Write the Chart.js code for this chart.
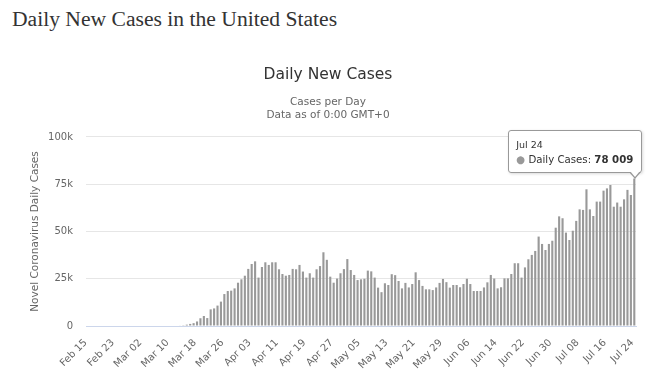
<!DOCTYPE html>
<html>
<head>
<meta charset="utf-8">
<script src="https://cdn.jsdelivr.net/npm/chart.js@4.4.0/dist/chart.umd.min.js"></script>
<style>
    body { margin: 0; background: #fff; }
    #wrap { position: relative; width: 653px; height: 376px; overflow: hidden; }
    #page-title {
        position: absolute; left: 12px; top: 8px;
        font-family: "Liberation Serif", "Times New Roman", serif;
        font-size: 21.6px; line-height: 22px; color: #333;
    }
    #chart { position: absolute; left: 0; top: 0; }
    #tip {
        position: absolute; display: none; white-space: nowrap;
        background: rgba(255, 255, 255, 0.96);
        border: 1px solid #999; border-radius: 3px;
        padding: 8px 8px 7px 7px;
        font-family: "DejaVu Sans", sans-serif; color: #333;
        box-shadow: 1px 1px 3px rgba(0, 0, 0, 0.15);
    }
    #tip .t { font-size: 9.5px; margin-bottom: 4px; }
    #tip .b { font-size: 10.2px; }
    #tip .dot { color: #999; }
    #tip:before, #tip:after {
        content: ''; position: absolute; width: 0; height: 0;
        border-left: 6px solid transparent; border-right: 6px solid transparent;
    }
    #tip:before { right: 0px; bottom: -7px; border-top: 7px solid #999; }
    #tip:after { right: 1px; bottom: -5px; border-left-width: 5px; border-right-width: 5px; border-top: 6px solid #fff; }
</style>
</head>
<body>
<div id="wrap">
    <div id="page-title">Daily New Cases in the United States</div>
    <canvas id="chart" width="653" height="376"></canvas>
    <div id="tip"></div>
</div>
<script>
// month name, first day, last day shown
const monthSpans = [['Feb', 15, 29], ['Mar', 1, 31], ['Apr', 1, 30], ['May', 1, 31], ['Jun', 1, 30], ['Jul', 1, 24]]

let days = []
monthSpans.forEach(function(m){
    for (let d = m[1]; d <= m[2]; d++) {
        days.push(m[0] + ' ' + (d < 10 ? '0' + d : d))
    }
})

// Feb 15 .. Jul 24 (nothing visible before mid March)
const dailyCases = [
    0, 0, 0, 0, 0, 0, 0, 0, 0, 0, 0, 0, 0, 0, 0,
    0, 0, 0, 0, 0, 0, 0, 0, 0, 0, 0, 0, 300, 400,
    700, 1100, 1500, 2400, 4100, 5300, 4200, 8800, 9300, 10800,
    12900, 16900, 18500, 18700, 19900, 22900, 24700, 26600, 30200, 32800,
    34200, 25600, 31200, 33700, 32300, 33700, 33700, 30000, 27500, 26600,
    27000, 30200, 30000, 32300, 28800, 25600, 27900, 25600, 30000, 31700,
    39000, 35000, 26100, 22900, 25100, 27900, 30100, 35400, 29600, 27000,
    24300, 24700, 25000, 29300, 28900, 25600, 20300, 17900, 22600, 21700,
    27400, 26900, 23800, 19900, 22800, 20400, 22200, 28400, 24300, 21200,
    19400, 19400, 19000, 20400, 22800, 24900, 23200, 20300, 21700, 21700,
    20500, 22200, 25000, 22200, 18500, 18500, 18500, 20400, 23100, 27000,
    25100, 19900, 20500, 25200, 25200, 27500, 33200, 33200, 25600, 31000,
    35300, 37600, 39700, 47300, 43400, 40200, 43400, 45100, 52000, 58000,
    57000, 49400, 45500, 50400, 55600, 61700, 61400, 72300, 61700, 58200,
    65800, 65800, 71600, 72800, 74600, 63100, 65300, 63100, 67000, 72000,
    69300, 78009
]

const yTicks = [0, 25000, 50000, 75000, 100000]
const labelEvery = 8
const tipIndex = days.length - 1

const FONT = '"DejaVu Sans", sans-serif'

function spaced(n){
    return String(n).replace(/\B(?=(\d{3})+(?!\d))/g, ' ')
}

function showTip(context){
    let tooltip = context.tooltip
    let tip = document.getElementById('tip')

    if (tooltip.opacity === 0 || !tooltip.dataPoints || !tooltip.dataPoints.length) {
        tip.style.display = 'none'
        return
    }

    let point = tooltip.dataPoints[0]
    let bar = point.element

    tip.innerHTML = '<div class="t">' + days[point.dataIndex].replace(' 0', ' ') + '</div>' +
        '<div class="b"><span class="dot">\u25CF</span> Daily Cases: <b>' + spaced(dailyCases[point.dataIndex]) + '</b></div>'
    tip.style.display = 'block'

    tip.style.left = (bar.x + 8 - tip.offsetWidth) + 'px'
    tip.style.top = (bar.y - 6 - tip.offsetHeight) + 'px'
}

let ctx = document.getElementById('chart').getContext('2d')

let chart = new Chart(ctx, {
    type: 'bar',
    data: {
        labels: days,
        datasets: [{
            label: 'Daily Cases',
            data: dailyCases,
            backgroundColor: '#999999',
            hoverBackgroundColor: '#999999',
            borderWidth: 0,
            barPercentage: 0.62,
            categoryPercentage: 1
        }]
    },
    options: {
        responsive: false,
        animation: false,
        devicePixelRatio: 1,
        layout: { padding: { left: 20, right: 17, top: 0, bottom: 0 } },
        plugins: {
            legend: { display: false },
            title: {
                display: true,
                text: 'Daily New Cases',
                color: '#333',
                font: { family: FONT, size: 15.5, weight: 'normal' },
                padding: { top: 65.5, bottom: 0 }
            },
            subtitle: {
                display: true,
                text: ['Cases per Day', 'Data as of 0:00 GMT+0'],
                color: '#666',
                font: { family: FONT, size: 10.5, lineHeight: 1.25 },
                padding: { top: 11.6, bottom: 15 }
            },
            tooltip: {
                enabled: false,
                external: showTip
            }
        },
        scales: {
            x: {
                grid: { display: false },
                border: { color: '#ccd6eb', width: 1 },
                ticks: {
                    autoSkip: false,
                    maxRotation: 45,
                    minRotation: 45,
                    color: '#666',
                    padding: 3,
                    labelOffset: -2,
                    font: { family: FONT, size: 10 },
                    callback: function(val, index){
                        return index % labelEvery === 0 ? days[index] : ''
                    }
                },
                afterFit: function(scale){ scale.height = 50 }
            },
            y: {
                min: 0,
                max: 100000,
                afterBuildTicks: function(scale){
                    scale.ticks = yTicks.map(function(v){ return { value: v } })
                },
                grid: { color: '#e6e6e6', drawTicks: false },
                border: { display: false },
                ticks: {
                    color: '#666',
                    padding: 13,
                    font: { family: FONT, size: 10 },
                    callback: function(v){ return v === 0 ? '0' : (v / 1000) + 'k' }
                },
                title: {
                    display: true,
                    text: 'Novel Coronavirus Daily Cases',
                    color: '#666',
                    font: { family: FONT, size: 10.5 },
                    padding: { top: 8.7, bottom: 0 }
                },
                afterFit: function(scale){ scale.width = 66 }
            }
        }
    }
})

// the reference shows the last day hovered
chart.tooltip.setActiveElements([{ datasetIndex: 0, index: tipIndex }], { x: 0, y: 0 })
</script>
</body>
</html>
